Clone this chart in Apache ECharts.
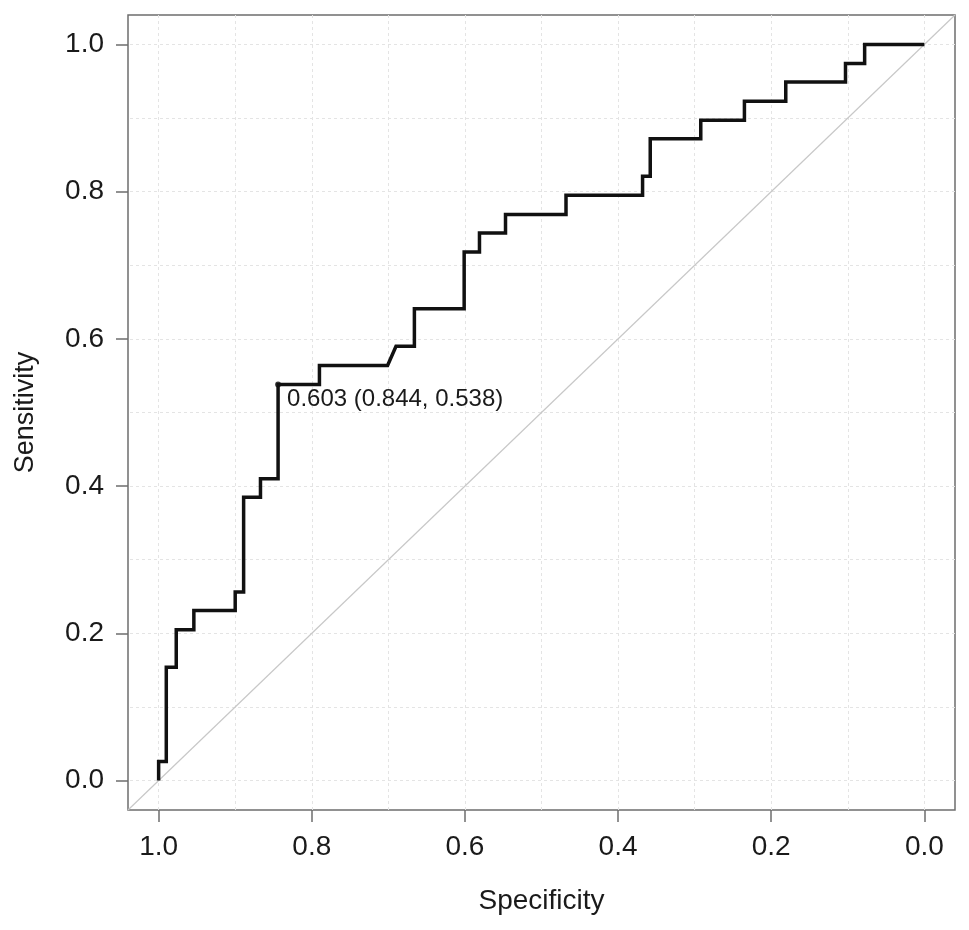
<!DOCTYPE html>
<html>
<head>
<meta charset="utf-8">
<script src="https://cdn.jsdelivr.net/npm/echarts@6/dist/echarts.min.js"></script>
<style>html,body{margin:0;padding:0;background:#fff}#c{width:969px;height:930px}</style>
</head>
<body>
<div id="c"></div>
<script>
// ROC curve vertices: specificity (x) and sensitivity (y)
var specificity = [1.000,1.000,0.990,0.990,0.977,0.977,0.954,0.954,0.900,0.900,0.889,0.889,0.867,0.867,0.844,0.844,0.790,0.790,0.701,0.690,0.666,0.666,0.601,0.601,0.581,0.581,0.547,0.547,0.468,0.468,0.368,0.368,0.358,0.358,0.292,0.292,0.235,0.235,0.181,0.181,0.103,0.103,0.078,0.078,0.000];
var sensitivity = [0.000,0.026,0.026,0.154,0.154,0.205,0.205,0.231,0.231,0.256,0.256,0.385,0.385,0.410,0.410,0.538,0.538,0.564,0.564,0.590,0.590,0.641,0.641,0.718,0.718,0.744,0.744,0.769,0.769,0.795,0.795,0.821,0.821,0.872,0.872,0.897,0.897,0.923,0.923,0.949,0.949,0.974,0.974,1.000,1.000];
var bestThreshold = 0.603;
var bestPoint = [0.844, 0.538];
var tickValues = [0.0, 0.2, 0.4, 0.6, 0.8, 1.0];
var gridValues = [0.0,0.1,0.2,0.3,0.4,0.5,0.6,0.7,0.8,0.9,1.0];
var axisMin = -0.04, axisMax = 1.04;
var diagonalX = [axisMax, axisMin];
var diagonalY = [axisMin, axisMax];

var rocData = specificity.map(function(s, i){ return [s, sensitivity[i]]; });
var diagData = diagonalX.map(function(s, i){ return [s, diagonalY[i]]; });
var gridMarks = gridValues.map(function(v){ return {xAxis: v}; })
  .concat(gridValues.map(function(v){ return {yAxis: v}; }));

var font = '"Liberation Sans", Arial, Helvetica, sans-serif';
var chart = echarts.init(document.getElementById('c'), null, {renderer: 'canvas'});
chart.setOption({
  animation: false,
  backgroundColor: '#ffffff',
  grid: {left: 128, right: 14, top: 15, bottom: 120, show: true, borderColor: '#6e6e6e', borderWidth: 1.5, backgroundColor: 'transparent'},
  xAxis: {
    type: 'value', inverse: true, min: axisMin, max: axisMax,
    axisLine: {show: false, onZero: false},
    axisTick: {show: true, length: 12, customValues: tickValues, lineStyle: {color: '#6e6e6e', width: 1.5}},
    axisLabel: {customValues: tickValues, margin: 23, fontSize: 28, fontFamily: font, color: '#1a1a1a',
      formatter: function(v){ return v.toFixed(1); }},
    splitLine: {show: false},
    name: 'Specificity', nameLocation: 'middle', nameGap: 77,
    nameTextStyle: {fontSize: 28, fontFamily: font, color: '#1a1a1a'}
  },
  yAxis: {
    type: 'value', min: axisMin, max: axisMax,
    axisLine: {show: false, onZero: false},
    axisTick: {show: true, length: 12, customValues: tickValues, lineStyle: {color: '#6e6e6e', width: 1.5}},
    axisLabel: {customValues: tickValues, margin: 24, fontSize: 28, fontFamily: font, color: '#1a1a1a',
      formatter: function(v){ return v.toFixed(1); }},
    splitLine: {show: false},
    name: 'Sensitivity', nameLocation: 'middle', nameGap: 89, nameRotate: 90,
    nameTextStyle: {fontSize: 27, fontFamily: font, color: '#1a1a1a'}
  },
  series: [
    {
      type: 'line', data: [], showSymbol: false, silent: true, z: 0, zlevel: 0,
      markLine: {
        silent: true, symbol: ['none','none'], label: {show: false}, z: 0,
        lineStyle: {color: '#e4e4e4', type: [3, 3], width: 1},
        data: gridMarks
      }
    },
    {
      type: 'line', data: diagData, showSymbol: false, silent: true,
      lineStyle: {color: '#c8c8c8', width: 1.2},
      z: 1
    },
    {
      type: 'line', data: rocData, showSymbol: false, silent: true,
      lineStyle: {color: '#111', width: 3.5, join: 'miter'},
      z: 5
    },
    {
      type: 'scatter', data: [bestPoint], symbol: 'circle', symbolSize: 6, silent: true,
      itemStyle: {color: '#111'},
      label: {show: true, position: [12, 6], align: 'left', verticalAlign: 'top',
        formatter: bestThreshold.toFixed(3) + ' (' + bestPoint[0].toFixed(3) + ', ' + bestPoint[1].toFixed(3) + ')',
        fontSize: 24, fontFamily: font, color: '#1a1a1a', opacity: 1},
      z: 6
    }
  ]
});
</script>
</body>
</html>
